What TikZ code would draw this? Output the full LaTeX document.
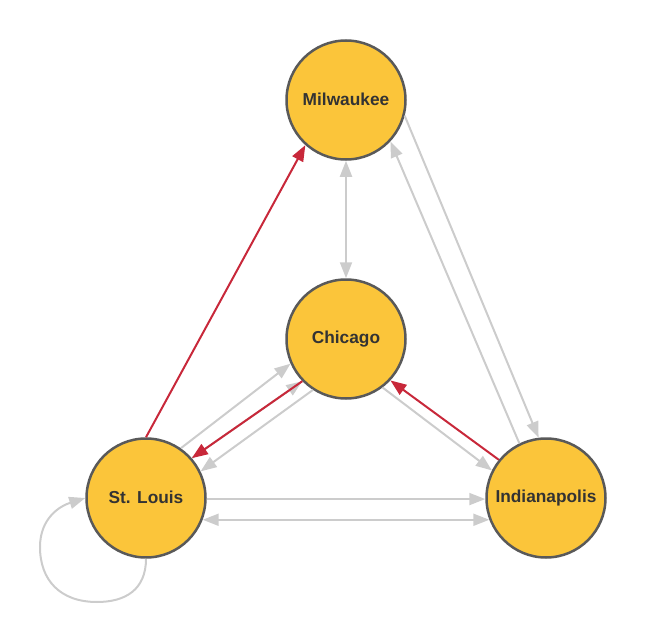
\documentclass[tikz,border=0pt]{standalone}
\usepackage{fontspec}
\setmainfont{Liberation Sans}
\usetikzlibrary{arrows.meta}
\definecolor{nodefill}{HTML}{FBC53A}
\definecolor{nodeline}{HTML}{595959}
\definecolor{edgegray}{HTML}{CCCCCC}
\definecolor{edgered}{HTML}{C8283A}
\definecolor{textdark}{HTML}{333333}
\begin{document}
\begin{tikzpicture}[x=1pt,y=-1pt,
  city/.style={circle,draw=nodeline,fill=nodefill,line width=2.5pt,minimum size=119pt,inner sep=0pt,
    font=\bfseries\fontsize{17.3}{20}\selectfont,text=textdark},
  gedge/.style={draw=edgegray,line width=2pt,-{Triangle[length=16pt,width=12pt]}},
  gboth/.style={draw=edgegray,line width=2pt,{Triangle[length=16pt,width=12pt]}-{Triangle[length=16pt,width=12pt]}},
  redge/.style={draw=edgered,line width=2pt,-{Triangle[length=16pt,width=12pt]}}
]
\useasboundingbox (0,0) rectangle (646,642);
\node[city] (mil) at (346,100) {\raisebox{1pt}{Milwaukee}};
\node[city] (chi) at (346,339) {\raisebox{1pt}{Chicago}};
\node[city] (stl) at (146,498) {\raisebox{1pt}{St. Louis}};
\node[city] (ind) at (546,498) {\raisebox{1pt}{Indianapolis}};

\draw[gboth] (mil.south) -- (chi.north);
\draw[gedge] (mil.-15.6) -- (ind.97.5);
\draw[gedge] (ind.116) -- (mil.-43);
\draw[gedge] (stl.55.8) -- (chi.-156);
\draw[gedge] (stl.41.7) -- (chi.-136);
\draw[gedge] (chi.-123) -- (stl.26);
\draw[gedge] (chi.-53) -- (ind.153);
\draw[gedge] (stl.-1) -- (ind.181);
\draw[gboth] (stl.-21) -- (ind.201);
\draw[gedge] (stl.south) .. controls (146,590) and (125,602) .. (97,602)
  .. controls (60,602) and (40,580) .. (40,547)
  .. controls (40,518) and (60,506) .. (stl.180);

\draw[redge] (stl.north) -- (mil.-132);
\draw[redge] (chi.-136) -- (stl.41.7);
\draw[redge] (ind.141.6) -- (chi.-43);
\end{tikzpicture}
\end{document}
